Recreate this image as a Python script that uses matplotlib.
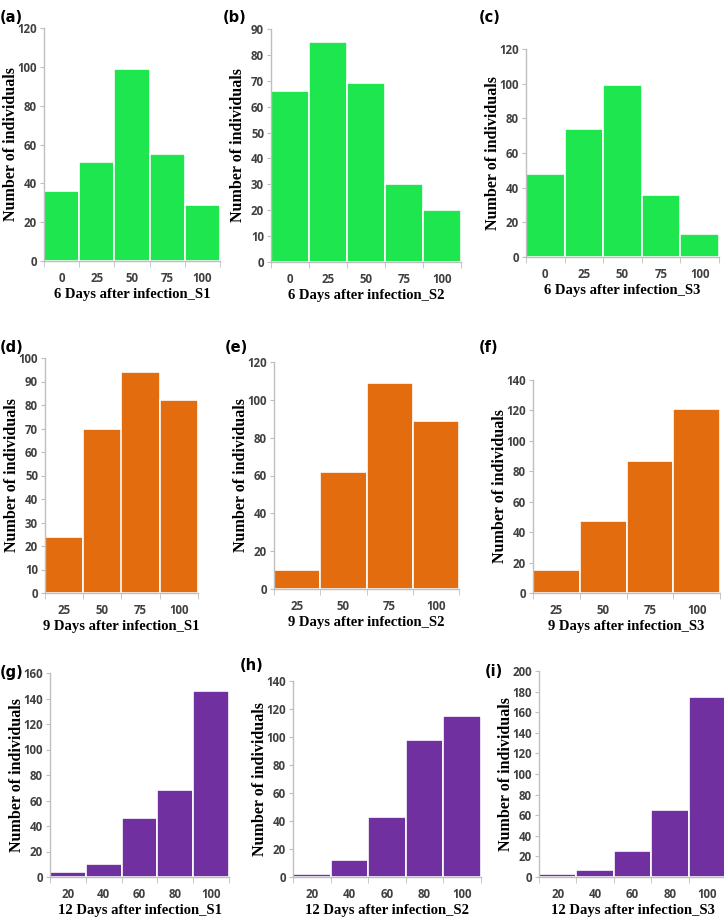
import numpy as np
import matplotlib.pyplot as plt

# bin labels
labels_6d = ['0', '25', '50', '75', '100']
labels_9d = ['25', '50', '75', '100']
labels_12d = ['20', '40', '60', '80', '100']

# counts
s1_6d = [36, 51, 99, 55, 29]
s2_6d = [66, 85, 69, 30, 20]
s3_6d = [48, 74, 99, 36, 13]
s1_9d = [24, 70, 94, 82]
s2_9d = [10, 62, 109, 89]
s3_9d = [15, 47, 87, 121]
s1_12d = [4, 10, 46, 68, 146]
s2_12d = [2, 12, 43, 98, 115]
s3_12d = [3, 7, 25, 65, 175]

W, H = 724, 924
fig = plt.figure(figsize=(W / 100, H / 100), dpi=100)

green = '#1ee64f'
orange = '#e36c0f'
purple = '#7030a0'
grey = '#bfbfbf'
tick_col = '#404040'

# (tag, counts, labels, colour, ymax, ystep, xlabel, axes box px: x0, ytop, x1, yzero, tag pos)
panels = [
    ('(a)', s1_6d, labels_6d, green, 120, 20, '6 Days after infection_S1', (44, 28, 220, 261), (0, 18)),
    ('(b)', s2_6d, labels_6d, green, 90, 10, '6 Days after infection_S2', (271, 29, 461, 262), (223, 18)),
    ('(c)', s3_6d, labels_6d, green, 120, 20, '6 Days after infection_S3', (526, 49, 719, 257), (479, 18)),
    ('(d)', s1_9d, labels_9d, orange, 100, 10, '9 Days after infection_S1', (45, 358, 198, 593), (0, 347)),
    ('(e)', s2_9d, labels_9d, orange, 120, 20, '9 Days after infection_S2', (274, 362, 459, 589), (225, 347)),
    ('(f)', s3_9d, labels_9d, orange, 140, 20, '9 Days after infection_S3', (533, 380, 720, 593), (479, 347)),
    ('(g)', s1_12d, labels_12d, purple, 160, 20, '12 Days after infection_S1', (50, 673, 229, 877), (0, 672)),
    ('(h)', s2_12d, labels_12d, purple, 140, 20, '12 Days after infection_S2', (293, 681, 481, 877), (240, 665)),
    ('(i)', s3_12d, labels_12d, purple, 200, 20, '12 Days after infection_S3', (539, 671, 726, 877), (485, 672)),
]

for tag, counts, labels, col, ymax, ystep, xlab, box, tpos in panels:
    x0, yt, x1, yz = box
    ax = fig.add_axes([x0 / W, 1 - yz / H, (x1 - x0) / W, (yz - yt) / H])
    n = len(counts)
    ax.bar(np.arange(n), counts, width=1, align='edge', color=col,
           edgecolor='white', linewidth=1.2)
    ax.set_xlim(0, n)
    ax.set_ylim(0, ymax)
    ax.set_yticks(np.arange(0, ymax + 1, ystep))
    ax.set_xticks(np.arange(n) + 0.5)
    ax.set_xticklabels(labels)
    ax.set_xticks(np.arange(n + 1), minor=True)
    ax.tick_params(axis='x', which='major', length=0, pad=8)
    ax.tick_params(axis='x', which='minor', length=4, color=grey, direction='out')
    ax.tick_params(axis='y', length=3, color=grey, pad=2)
    for lab in ax.get_xticklabels() + ax.get_yticklabels():
        lab.set_fontfamily('Open Sans')
        lab.set_fontweight('bold')
        lab.set_fontsize(8.3)
        lab.set_color(tick_col)
    for s in ['top', 'right']:
        ax.spines[s].set_visible(False)
    for s in ['left', 'bottom']:
        ax.spines[s].set_color(grey)
        ax.spines[s].set_linewidth(1)
    ax.set_ylabel('Number of individuals', family='Liberation Serif',
                  fontweight='bold', fontsize=11.5)
    ax.yaxis.set_label_coords(-25 / (x1 - x0), 0.5)
    ax.set_xlabel(xlab, family='Liberation Serif', fontweight='bold', fontsize=10.5)
    ax.xaxis.set_label_coords(0.5, -27 / (yz - yt))
    fig.text(tpos[0] / W, 1 - tpos[1] / H, tag, fontsize=10.5, fontweight='bold',
             ha='left', va='center')

plt.savefig('out.png', dpi=100)
